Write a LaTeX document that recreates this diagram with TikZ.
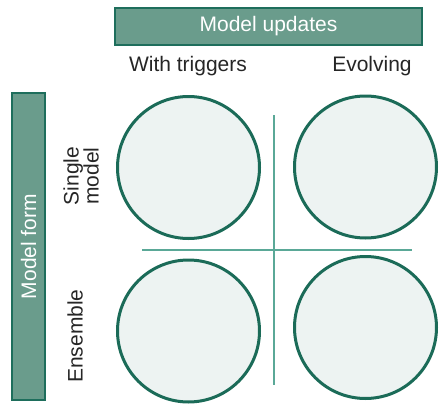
\documentclass[tikz,border=0pt]{standalone}
\usepackage{fontspec}
\setmainfont{Liberation Sans}
\begin{document}
\definecolor{boxfill}{HTML}{6A9C8C}
\definecolor{boxedge}{HTML}{1E6E5C}
\definecolor{ringedge}{HTML}{1B6B58}
\definecolor{ringfill}{HTML}{EDF3F2}
\definecolor{divider}{HTML}{5AA897}
\begin{tikzpicture}[x=1pt,y=-1pt,
  headbox/.style={draw=boxedge,fill=boxfill,line width=2.5pt},
  headtext/.style={text=white,font=\fontsize{21}{24}\selectfont},
  label/.style={text=black!85,font=\fontsize{21}{20}\selectfont,align=center},
  cell/.style={circle,draw=ringedge,fill=ringfill,line width=3pt,minimum size=142pt,inner sep=0pt},
  split/.style={draw=divider,line width=1.5pt}]
\useasboundingbox (0,0) rectangle (445,407);
% header bars
\draw[headbox] (115,8) rectangle (422,45);
\node[headtext] (top) at (268.5,26.5) {Model updates};
\draw[headbox] (12,93) rectangle (45,400);
\node[headtext,rotate=90] (side) at (28.5,246.5) {Model form};
% column and row labels
\node[label] (c1) at (188,66) {With triggers};
\node[label] (c2) at (372,66) {Evolving};
\node[label,rotate=90] (r1) at (81,176) {Single\\model};
\node[label,rotate=90] (r2) at (75,336) {Ensemble};
% dividers
\coordinate (vt) at (274,115);
\coordinate (vb) at (274,385);
\coordinate (hl) at (142,250);
\coordinate (hr) at (412,250);
\draw[split] (vt) -- (vb);
\draw[split] (hl) -- (hr);
% quadrant circles
\node[cell] (q11) at (188.5,167.5) {};
\node[cell] (q12) at (365.5,167) {};
\node[cell] (q21) at (188.5,331) {};
\node[cell] (q22) at (365.5,327.5) {};
\end{tikzpicture}
\end{document}
